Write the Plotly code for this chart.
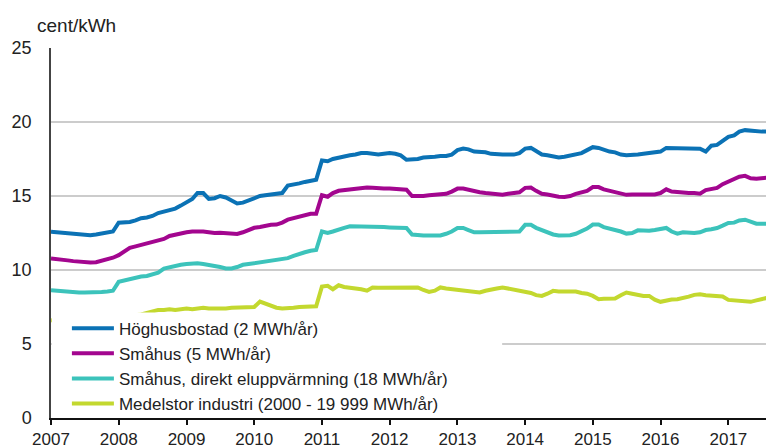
import plotly.graph_objects as go
import pandas as pd

months = pd.date_range("2007-01-01", "2017-09-01", freq="MS")

hoghus = [
    12.58, 12.55, 12.5, 12.45, 12.4, 12.37, 12.35, 12.35, 12.4, 12.45, 12.5, 12.6,
    13.2, 13.2, 13.25, 13.35, 13.5, 13.55, 13.65, 13.85, 13.95, 14.05, 14.15, 14.35,
    14.6, 14.8, 15.2, 15.2, 14.8, 14.85, 15.0, 14.9, 14.7, 14.5, 14.55, 14.7,
    14.85, 15.0, 15.05, 15.1, 15.2, 15.2, 15.7, 15.75, 15.85, 15.95, 16.05, 16.1,
    17.4, 17.35, 17.5, 17.6, 17.65, 17.75, 17.8, 17.9, 17.9, 17.85, 17.8, 17.85,
    17.9, 17.85, 17.75, 17.45, 17.45, 17.5, 17.6, 17.6, 17.65, 17.7, 17.7, 17.8,
    18.1, 18.2, 18.15, 18.0, 18.0, 17.95, 17.85, 17.8, 17.8, 17.8, 17.8, 17.9,
    18.2, 18.25, 18.05, 17.8, 17.75, 17.65, 17.6, 17.65, 17.75, 17.85, 17.9, 18.1,
    18.3, 18.25, 18.1, 18.0, 17.95, 17.8, 17.75, 17.75, 17.8, 17.85, 17.9, 17.95,
    18.0, 18.25, 18.25, 18.2, 18.2, 18.2, 18.2, 18.2, 18.0, 18.4, 18.45, 18.7,
    19.0, 19.1, 19.35, 19.45, 19.4, 19.35, 19.35, 19.35, 19.35,
]

smahus = [
    10.77, 10.75, 10.7, 10.65, 10.6, 10.55, 10.5, 10.5, 10.52, 10.6, 10.7, 10.83,
    11.0, 11.3, 11.5, 11.6, 11.7, 11.8, 11.85, 11.95, 12.1, 12.3, 12.4, 12.5,
    12.55, 12.6, 12.62, 12.6, 12.55, 12.5, 12.52, 12.5, 12.45, 12.44, 12.55, 12.7,
    12.85, 12.9, 13.0, 13.05, 13.07, 13.2, 13.4, 13.5, 13.6, 13.75, 13.8, 13.8,
    15.05, 14.95, 15.2, 15.35, 15.4, 15.45, 15.5, 15.55, 15.57, 15.55, 15.5, 15.5,
    15.5, 15.48, 15.45, 15.42, 15.0, 14.97, 15.0, 15.05, 15.1, 15.15, 15.15, 15.3,
    15.5, 15.5, 15.4, 15.3, 15.25, 15.2, 15.15, 15.1, 15.08, 15.15, 15.2, 15.25,
    15.55, 15.57, 15.35, 15.15, 15.1, 15.0, 14.95, 14.93, 15.0, 15.15, 15.25, 15.35,
    15.6, 15.6, 15.45, 15.35, 15.3, 15.15, 15.08, 15.1, 15.1, 15.05, 15.1, 15.1,
    15.2, 15.45, 15.3, 15.25, 15.25, 15.2, 15.2, 15.15, 15.4, 15.5, 15.55, 15.8,
    15.97, 16.1, 16.3, 16.36, 16.2, 16.16, 16.2, 16.25, 16.3,
]

direkt = [
    8.64, 8.6, 8.55, 8.5, 8.48, 8.48, 8.48, 8.48, 8.5, 8.52, 8.55, 8.6,
    9.2, 9.3, 9.4, 9.5, 9.56, 9.6, 9.7, 9.82, 10.1, 10.2, 10.3, 10.35,
    10.4, 10.45, 10.45, 10.4, 10.35, 10.3, 10.2, 10.1, 10.1, 10.2, 10.35, 10.4,
    10.45, 10.5, 10.55, 10.6, 10.65, 10.75, 10.8, 10.95, 11.1, 11.2, 11.3, 11.35,
    12.6, 12.5, 12.6, 12.75, 12.85, 12.95, 12.95, 12.95, 12.95, 12.95, 12.9, 12.9,
    12.88, 12.86, 12.85, 12.84, 12.4, 12.33, 12.33, 12.33, 12.33, 12.33, 12.45, 12.6,
    12.84, 12.84, 12.7, 12.55, 12.55, 12.55, 12.55, 12.55, 12.55, 12.55, 12.55, 12.6,
    13.05, 13.05, 12.85, 12.7, 12.55, 12.4, 12.33, 12.33, 12.35, 12.45, 12.6, 12.8,
    13.07, 13.07, 12.9, 12.8, 12.73, 12.6, 12.46, 12.5, 12.68, 12.65, 12.65, 12.7,
    12.75, 12.84, 12.6, 12.46, 12.55, 12.5, 12.5, 12.55, 12.7, 12.75, 12.84, 13.0,
    13.18, 13.2, 13.35, 13.4, 13.25, 13.13, 13.13, 13.13, 13.13,
]

industri = [
    6.6, 6.55, 6.5, 6.5, 6.5, 6.55, 6.6, 6.6, 6.65, 6.7, 6.75, 6.8,
    6.85, 6.9, 6.9, 6.94, 7.0, 7.1, 7.2, 7.3, 7.3, 7.35, 7.3, 7.35,
    7.4, 7.35, 7.4, 7.45, 7.4, 7.4, 7.35, 7.4, 7.45, 7.45, 7.45, 7.45,
    7.5, 7.87, 7.75, 7.55, 7.45, 7.4, 7.4, 7.45, 7.5, 7.5, 7.5, 7.55,
    8.88, 8.93, 8.7, 8.97, 8.85, 8.8, 8.8, 8.7, 8.6, 8.82, 8.8, 8.8,
    8.82, 8.82, 8.8, 8.8, 8.82, 8.82, 8.65, 8.52, 8.6, 8.82, 8.75, 8.7,
    8.7, 8.64, 8.6, 8.55, 8.48, 8.6, 8.7, 8.75, 8.82, 8.75, 8.65, 8.6,
    8.52, 8.45, 8.3, 8.25, 8.4, 8.59, 8.55, 8.55, 8.52, 8.55, 8.45, 8.4,
    8.25, 8.03, 8.05, 8.08, 8.08, 8.3, 8.48, 8.4, 8.3, 8.25, 8.25, 8.0,
    7.85, 7.95, 8.0, 8.03, 8.1, 8.2, 8.32, 8.36, 8.3, 8.25, 8.25, 8.21,
    7.98, 7.95, 7.9, 7.85, 7.85, 7.95, 8.03, 8.1, 8.21,
]

series_names = [
    "Höghusbostad (2 MWh/år)",
    "Småhus (5 MWh/år)",
    "Småhus, direkt eluppvärmning (18 MWh/år)",
    "Medelstor industri (2000 - 19 999 MWh/år)",
]
series_values = [hoghus, smahus, direkt, industri]
colors = ["#0b72b5", "#a3068f", "#3cc3bb", "#c3d82f"]

year_ticks = [f"{y}-01-01" for y in range(2007, 2018)]
year_labels = [str(y) for y in range(2007, 2018)]

fig = go.Figure()
for name, vals, col in zip(series_names, series_values, colors):
    fig.add_trace(go.Scatter(
        x=months, y=vals, mode="lines", name=name,
        line=dict(color=col, width=4),
    ))

font_family = "Liberation Sans, Arial, sans-serif"

# white legend box (as in the original, wider than the legend text)
fig.add_shape(
    type="rect", xref="paper", yref="paper",
    x0=0.001, x1=0.624, y0=0.022, y1=0.285,
    fillcolor="white", line=dict(width=0), layer="above",
)

# page body has an 8px default margin; figure is sized to fit the window
fig.update_layout(
    width=766, height=440,
    margin=dict(l=43, r=0, t=40, b=30),
    paper_bgcolor="white", plot_bgcolor="white",
    font=dict(family=font_family, size=17, color="#333333"),
    showlegend=True,
    legend=dict(
        x=0.022, y=0.29, xanchor="left", yanchor="top",
        bgcolor="rgba(255,255,255,0)", borderwidth=0,
        font=dict(family=font_family, size=17, color="#222222"),
        itemwidth=42, tracegroupgap=0,
    ),
    annotations=[dict(
        text="cent/kWh", xref="paper", yref="paper",
        x=-0.022, y=1.0, xanchor="left", yanchor="bottom", yshift=10,
        showarrow=False, font=dict(family=font_family, size=19, color="#222222"),
    )],
)

fig.update_xaxes(
    type="date",
    range=["2007-01-01", "2017-09-04"],
    tickmode="array", tickvals=year_ticks, ticktext=year_labels,
    showgrid=False, showline=True, linecolor="#111111", linewidth=1.5,
    ticks="outside", ticklen=5, tickcolor="#111111", tickwidth=1.5,
    tickfont=dict(family=font_family, size=17, color="#222222"),
    zeroline=False,
)
fig.update_yaxes(
    range=[0, 25], tickmode="array", tickvals=[0, 5, 10, 15, 20, 25],
    showgrid=True, gridcolor="#cccccc", gridwidth=1.5,
    showline=True, linecolor="#444444", linewidth=1.5,
    ticks="", ticklabelstandoff=14,
    tickfont=dict(family=font_family, size=18, color="#222222"),
    zeroline=False,
)

fig.write_html("out.html")
